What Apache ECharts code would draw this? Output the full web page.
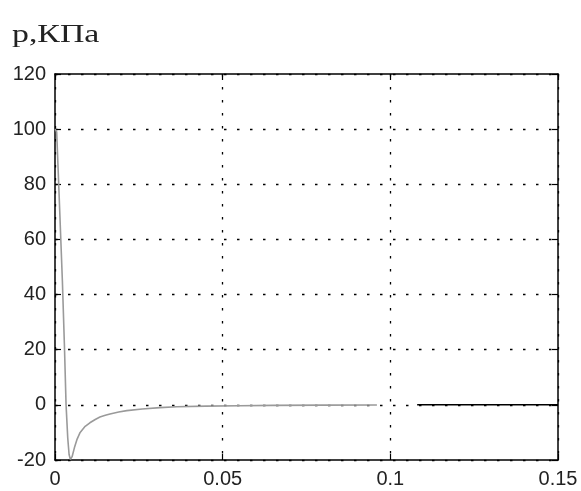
<!DOCTYPE html>
<html>
<head>
<meta charset="utf-8">
<script src="https://cdn.jsdelivr.net/npm/echarts@6/dist/echarts.min.js"></script>
<style>
  html, body { margin: 0; padding: 0; background: #fff; }
  #chart { width: 581px; height: 491px; }
</style>
</head>
<body>
<div id="chart"></div>
<script>
// pressure p (kPa) vs time t
const tValues = [0, 0.0005, 0.0012, 0.0022, 0.0028, 0.0033, 0.0038, 0.0042, 0.0046, 0.0051,
  0.0058, 0.0066, 0.0075, 0.009, 0.0104, 0.012, 0.0134, 0.015, 0.0164, 0.019, 0.0214,
  0.026, 0.0313, 0.0363, 0.045, 0.055, 0.065, 0.08, 0.096];
const pValues = [100, 99, 77, 45, 22, 0, -12, -18, -19.8, -18.8,
  -15.5, -12.4, -10, -7.8, -6.5, -5.3, -4.4, -3.8, -3.3, -2.6, -2.1,
  -1.5, -1.0, -0.7, -0.45, -0.3, -0.2, -0.1, -0.05];
// solid zero line at the tail
const tailT = [0.108, 0.15];
const tailP = [0, 0];

const xTicks = { min: 0, max: 0.15, interval: 0.05 };
const yTicks = { min: -20, max: 120, interval: 20 };
const titleText = 'p,КПа';

const chart = echarts.init(document.getElementById('chart'), null, { renderer: 'canvas' });

const frameLine = { show: true, onZero: false, lineStyle: { color: '#000', width: 1.5 } };
const innerTick = { show: true, inside: true, length: 6, lineStyle: { color: '#000', width: 1.2 } };
const gridDots = { show: true, lineStyle: { color: '#000', width: 1.3, type: [2.5, 10.5] } };
const labelStyle = { fontFamily: 'Liberation Sans, Arial, sans-serif', fontSize: 20, color: '#222' };

const pairs = (xs, ys) => xs.map((x, i) => [x, ys[i]]);

chart.setOption({
  animation: false,
  backgroundColor: '#fff',
  // the scanned title is drawn wide, so stretch it a bit
  graphic: [{
    type: 'text',
    left: 12,
    top: 22,
    scaleX: 1.3,
    style: {
      text: titleText,
      font: '26px "Liberation Serif", "Times New Roman", serif',
      fill: '#222'
    }
  }],
  grid: { left: 55, right: 23, top: 74, bottom: 31 },
  xAxis: [
    {
      type: 'value', position: 'bottom', ...xTicks,
      axisLine: frameLine, axisTick: innerTick,
      axisLabel: { ...labelStyle, margin: 9 },
      splitLine: gridDots
    },
    {
      type: 'value', position: 'top', ...xTicks,
      axisLine: frameLine, axisTick: innerTick,
      axisLabel: { show: false }, splitLine: { show: false }
    }
  ],
  yAxis: [
    {
      type: 'value', position: 'left', ...yTicks,
      axisLine: frameLine, axisTick: innerTick,
      axisLabel: { ...labelStyle, margin: 9 },
      splitLine: gridDots
    },
    {
      type: 'value', position: 'right', ...yTicks,
      axisLine: frameLine, axisTick: innerTick,
      axisLabel: { show: false }, splitLine: { show: false }
    }
  ],
  series: [
    {
      type: 'line',
      data: pairs(tValues, pValues),
      showSymbol: false,
      lineStyle: { color: '#9a9a9a', width: 1.6 },
      z: 3
    },
    {
      type: 'line',
      data: pairs(tailT, tailP),
      showSymbol: false,
      lineStyle: { color: '#000', width: 1.5 },
      z: 3
    }
  ]
});
</script>
</body>
</html>
